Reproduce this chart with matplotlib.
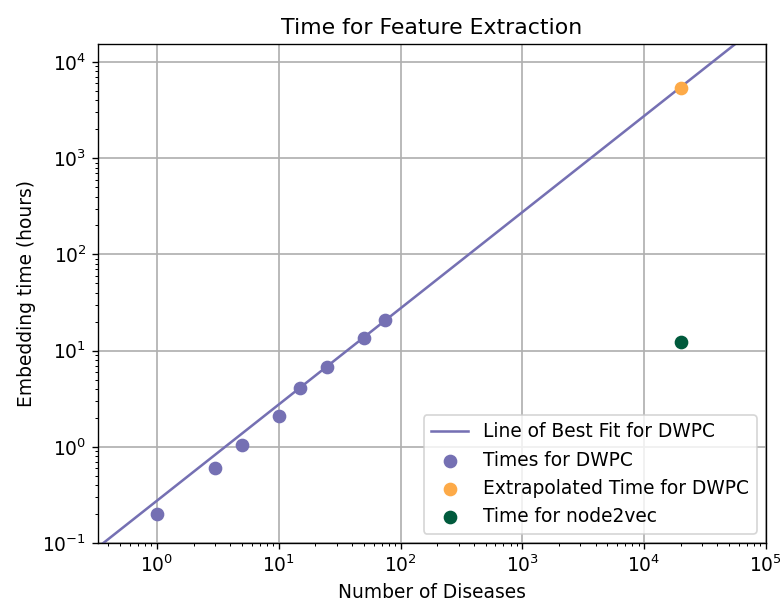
import numpy as np
import matplotlib
matplotlib.use("Agg")
import matplotlib.pyplot as plt

# dati
n_diseases = [1, 3, 5, 10, 15, 25, 50, 75]
dwpc_hours = [0.2, 0.6, 1.05, 2.1, 4.1, 6.7, 13.5, 21.0]
extrap_n = [20000]
extrap_hours = [5400]
n2v_n = [20000]
n2v_hours = [12.3]

x = np.array(n_diseases, dtype=float)
y = np.array(dwpc_hours)
# fit lineare passante per l'origine
coef = np.sum(x * y) / np.sum(x * x)

plt.rcParams["font.size"] = 11
fig = plt.figure(figsize=(780 / 122, 603 / 122), dpi=122)
ax = fig.add_axes([0.126, 0.0995, 0.856, 0.8275])

xfit = np.logspace(-1, 5.5, 200)
ax.plot(xfit, coef * xfit, color="#7570b3", lw=1.5, label="Line of Best Fit for DWPC")
ax.scatter(n_diseases, dwpc_hours, color="#7570b3", s=50, label="Times for DWPC", zorder=3)
ax.scatter(extrap_n, extrap_hours, color="#fdaa48", s=50, label="Extrapolated Time for DWPC", zorder=3)
ax.scatter(n2v_n, n2v_hours, color="#005a3c", s=50, label="Time for node2vec", zorder=3)

ax.set_xscale("log")
ax.set_yscale("log")
ax.set_xlim(0.33, 1e5)
ax.set_ylim(0.1, 1.54e4)
ax.grid(True, color="#b0b0b0", lw=1)
ax.set_axisbelow(True)
ax.set_xlabel("Number of Diseases")
ax.set_ylabel("Embedding time (hours)")
ax.set_title("Time for Feature Extraction", fontsize=13)
ax.legend(loc="lower right", scatterpoints=1)

fig.savefig("out.png", dpi=122)
